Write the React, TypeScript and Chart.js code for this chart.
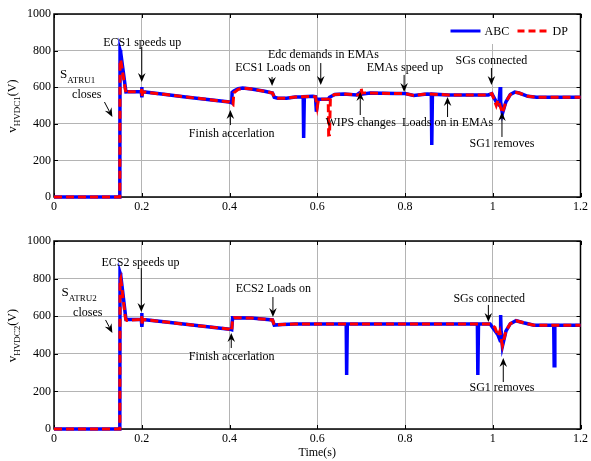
import { useEffect, useRef } from 'react';
import { Chart, registerables } from 'chart.js';
Chart.register(...registerables);

const FONT = '"Liberation Serif", "Times New Roman", serif';

const xTickValues = [0, 0.2, 0.4, 0.6, 0.8, 1, 1.2];
const xTickLabels = ['0', '0.2', '0.4', '0.6', '0.8', '1', '1.2'];
const yTickValues = [0, 200, 400, 600, 800, 1000];
const yTickLabels = ['0', '200', '400', '600', '800', '1000'];
const seriesNames = ['ABC', 'DP'];
const xTitle = 'Time(s)';

// ---- Panel 1 (v_HVDC1) ----
const t1ABC = [0, 0.15, 0.1505, 0.152, 0.164, 0.168, 0.199, 0.2, 0.2005, 0.202, 0.25, 0.3, 0.35, 0.4, 0.405, 0.406, 0.41, 0.42, 0.43, 0.45, 0.48, 0.498, 0.502, 0.51, 0.53, 0.55, 0.568, 0.569, 0.5705, 0.59, 0.596, 0.598, 0.601, 0.625, 0.628, 0.64, 0.66, 0.69, 0.7, 0.702, 0.72, 0.78, 0.8, 0.82, 0.85, 0.86, 0.861, 0.8625, 0.9, 0.99, 0.998, 1.008, 1.014, 1.017, 1.018, 1.022, 1.03, 1.04, 1.05, 1.06, 1.08, 1.1, 1.2];
const v1ABC = [0, 0, 803, 790, 574, 575, 575, 601, 545, 575, 561, 547, 533, 519, 515, 572, 580, 592, 596, 590, 578, 568, 545, 540, 540, 546, 548, 322, 548, 550, 548, 466, 534, 534, 545, 560, 563, 558, 575, 562, 568, 565, 565, 555, 563, 562, 284, 562, 558, 558, 565, 520, 505, 601, 520, 455, 520, 560, 573, 568, 550, 545, 545];
const t1DP = [0, 0.15, 0.1505, 0.152, 0.163, 0.165, 0.167, 0.199, 0.2, 0.2005, 0.202, 0.25, 0.3, 0.35, 0.4, 0.405, 0.408, 0.41, 0.42, 0.43, 0.45, 0.48, 0.498, 0.502, 0.51, 0.53, 0.55, 0.59, 0.596, 0.6, 0.603, 0.625, 0.626, 0.628, 0.63, 0.64, 0.66, 0.69, 0.699, 0.7, 0.702, 0.72, 0.78, 0.8, 0.82, 0.85, 0.9, 0.99, 0.998, 1.008, 1.012, 1.015, 1.022, 1.03, 1.04, 1.05, 1.06, 1.08, 1.1, 1.2];
const v1DP = [0, 0, 740, 750, 580, 565, 575, 575, 590, 550, 575, 561, 547, 533, 519, 510, 505, 570, 588, 595, 590, 578, 568, 545, 540, 540, 546, 550, 548, 490, 534, 534, 339, 340, 548, 560, 563, 558, 560, 596, 570, 568, 565, 565, 555, 563, 558, 558, 565, 500, 530, 510, 460, 520, 560, 573, 568, 550, 545, 545];

// ---- Panel 2 (v_HVDC2) ----
const t2ABC = [0, 0.15, 0.1505, 0.152, 0.164, 0.199, 0.2, 0.2005, 0.202, 0.25, 0.3, 0.35, 0.4, 0.405, 0.407, 0.45, 0.498, 0.502, 0.52, 0.55, 0.666, 0.667, 0.6685, 0.8, 0.965, 0.966, 0.9675, 0.994, 1.012, 1.017, 1.018, 1.019, 1.022, 1.03, 1.04, 1.053, 1.07, 1.094, 1.139, 1.14, 1.1415, 1.2];
const v2ABC = [0, 0, 831, 820, 583, 583, 617, 543, 583, 570, 557, 544, 531, 528, 592, 590, 580, 553, 556, 558, 558, 287, 558, 558, 558, 287, 558, 558, 500, 470, 606, 520, 440, 520, 560, 576, 565, 552, 552, 337, 552, 552];
const t2DP = [0, 0.15, 0.1505, 0.152, 0.163, 0.166, 0.199, 0.2, 0.2005, 0.202, 0.25, 0.3, 0.35, 0.4, 0.405, 0.407, 0.41, 0.45, 0.498, 0.502, 0.52, 0.55, 0.994, 1.005, 1.012, 1.016, 1.022, 1.03, 1.04, 1.053, 1.07, 1.094, 1.2];
const v2DP = [0, 0, 790, 800, 585, 578, 583, 600, 550, 583, 570, 557, 544, 531, 522, 585, 592, 590, 580, 553, 556, 558, 558, 540, 495, 520, 445, 520, 560, 576, 565, 552, 552];

// ---- annotations (data coordinates) ----
const notes1 = [
  { text: 'ECS1 speeds up', x: 0.201, y: 842 },
  { text: 'closes', x: 0.0746, y: 557 },
  { text: 'Finish accerlation', x: 0.405, y: 344 },
  { text: 'ECS1 Loads on', x: 0.499, y: 705 },
  { text: 'Edc demands in EMAs', x: 0.614, y: 776 },
  { text: 'EMAs speed up', x: 0.8, y: 705 },
  { text: 'SGs connected', x: 0.997, y: 743 },
  { text: 'WIPS changes', x: 0.699, y: 404 },
  { text: 'Loads on in EMAs', x: 0.897, y: 404 },
  { text: 'SG1 removes', x: 1.021, y: 290 },
];
const arrows1 = [
  [0.2, 820, 0.2, 628],
  [0.115, 519, 0.133, 437],
  [0.402, 393, 0.402, 475],
  [0.497, 656, 0.497, 607],
  [0.608, 732, 0.608, 612],
  [0.798, 667, 0.798, 574],
  [0.997, 705, 0.997, 612],
  [0.698, 448, 0.698, 574],
  [0.897, 437, 0.897, 546],
  [1.021, 328, 1.021, 464],
];
const subNote1 = { main: 'S', sub: 'ATRU1', x: 0.0136, y: 667 };
const yTitle1 = { main: 'v', sub: 'HVDC1', tail: '(V)' };

const notes2 = [
  { text: 'ECS2 speeds up', x: 0.197, y: 883 },
  { text: 'closes', x: 0.077, y: 617 },
  { text: 'Finish accerlation', x: 0.405, y: 383 },
  { text: 'ECS2 Loads on', x: 0.5, y: 745 },
  { text: 'SGs connected', x: 0.992, y: 691 },
  { text: 'SG1 removes', x: 1.021, y: 218 },
];
const arrows2 = [
  [0.199, 856, 0.199, 622],
  [0.1175, 580, 0.133, 511],
  [0.404, 431, 0.404, 511],
  [0.499, 702, 0.499, 596],
  [0.99, 660, 0.99, 569],
  [1.024, 250, 1.024, 378],
];
const subNote2 = { main: 'S', sub: 'ATRU2', x: 0.017, y: 725 };
const yTitle2 = { main: 'v', sub: 'HVDC2', tail: '(V)' };

const BLUE = '#0000ff';
const RED = '#ff0000';

function pts(t: number[], v: number[]) {
  return t.map((x, i) => ({ x, y: v[i] }));
}

function drawArrow(ctx: CanvasRenderingContext2D, x1: number, y1: number, x2: number, y2: number) {
  const ang = Math.atan2(y2 - y1, x2 - x1);
  const L = 9, W = 3.8, N = 6;
  const c = Math.cos(ang), s = Math.sin(ang);
  ctx.beginPath();
  ctx.moveTo(x1, y1);
  ctx.lineTo(x2 - c * N, y2 - s * N);
  ctx.stroke();
  ctx.beginPath();
  ctx.moveTo(x2, y2);
  ctx.lineTo(x2 - c * L - s * W, y2 - s * L + c * W);
  ctx.lineTo(x2 - c * N, y2 - s * N);
  ctx.lineTo(x2 - c * L + s * W, y2 - s * L - c * W);
  ctx.closePath();
  ctx.fill();
}

function makeOverlay(opts: any) {
  return {
    id: 'overlay',
    beforeDatasetsDraw(chart: any) {
      const { ctx, chartArea: a, scales } = chart;
      const xs = scales.x, ys = scales.y;
      ctx.save();
      ctx.strokeStyle = '#000';
      ctx.lineWidth = 1;
      const tl = 4;
      ctx.beginPath();
      xTickValues.forEach((v) => {
        const px = Math.round(xs.getPixelForValue(v)) + 0.5;
        ctx.moveTo(px, a.bottom); ctx.lineTo(px, a.bottom - tl);
        ctx.moveTo(px, a.top); ctx.lineTo(px, a.top + tl);
      });
      yTickValues.forEach((v) => {
        const py = Math.round(ys.getPixelForValue(v)) + 0.5;
        ctx.moveTo(a.left, py); ctx.lineTo(a.left + tl, py);
        ctx.moveTo(a.right, py); ctx.lineTo(a.right - tl, py);
      });
      ctx.stroke();
      ctx.lineWidth = 1.5;
      ctx.strokeRect(a.left, a.top, a.right - a.left, a.bottom - a.top);
      ctx.restore();
    },
    afterDraw(chart: any) {
      const { ctx, chartArea: a, scales } = chart;
      const xs = scales.x, ys = scales.y;
      ctx.save();
      ctx.fillStyle = '#000';
      ctx.strokeStyle = '#000';
      ctx.lineWidth = 1;
      ctx.font = `12px ${FONT}`;
      ctx.textAlign = 'center';
      ctx.textBaseline = 'middle';
      opts.notes.forEach((n: any) => {
        ctx.fillText(n.text, xs.getPixelForValue(n.x), ys.getPixelForValue(n.y));
      });
      opts.arrows.forEach((r: number[]) => {
        drawArrow(ctx, xs.getPixelForValue(r[0]), ys.getPixelForValue(r[1]), xs.getPixelForValue(r[2]), ys.getPixelForValue(r[3]));
      });
      // S_ATRU note
      const sn = opts.subNote;
      const sx = xs.getPixelForValue(sn.x), sy = ys.getPixelForValue(sn.y);
      ctx.textAlign = 'left';
      ctx.font = `13px ${FONT}`;
      ctx.fillText(sn.main, sx, sy);
      const sw = ctx.measureText(sn.main).width;
      ctx.font = `9px ${FONT}`;
      ctx.fillText(sn.sub, sx + sw, sy + 6);

      // legend
      if (opts.legend) {
        const lx = a.right - 136, ly = a.top + 4;
        ctx.fillStyle = '#fff';
        ctx.fillRect(lx, ly, 134, 26);
        const cy = ly + 13;
        ctx.lineWidth = 3;
        ctx.strokeStyle = BLUE;
        ctx.beginPath(); ctx.moveTo(lx + 6, cy); ctx.lineTo(lx + 36, cy); ctx.stroke();
        ctx.strokeStyle = RED;
        ctx.setLineDash([7, 4]);
        ctx.beginPath(); ctx.moveTo(lx + 73, cy); ctx.lineTo(lx + 104, cy); ctx.stroke();
        ctx.setLineDash([]);
        ctx.fillStyle = '#000';
        ctx.font = `12px ${FONT}`;
        ctx.textAlign = 'left';
        ctx.fillText(seriesNames[0], lx + 40, cy + 1);
        ctx.fillText(seriesNames[1], lx + 108, cy + 1);
      }

      // y title with subscript
      const yt = opts.yTitle;
      ctx.save();
      ctx.translate(15, (a.top + a.bottom) / 2);
      ctx.rotate(-Math.PI / 2);
      ctx.fillStyle = '#000';
      ctx.textAlign = 'left';
      ctx.font = `13px ${FONT}`;
      const w1 = ctx.measureText(yt.main).width;
      const w3 = ctx.measureText(yt.tail).width;
      ctx.font = `9px ${FONT}`;
      const w2 = ctx.measureText(yt.sub).width;
      let px = -(w1 + w2 + w3) / 2;
      ctx.font = `13px ${FONT}`;
      ctx.fillText(yt.main, px, -2);
      px += w1;
      ctx.font = `9px ${FONT}`;
      ctx.fillText(yt.sub, px, 3);
      px += w2;
      ctx.font = `12px ${FONT}`;
      ctx.fillText(yt.tail, px, -2);
      ctx.restore();

      if (opts.xTitle) {
        ctx.font = `12px ${FONT}`;
        ctx.textAlign = 'center';
        ctx.fillStyle = '#000';
        ctx.fillText(xTitle, (a.left + a.right) / 2, a.bottom + 24);
      }
      ctx.restore();
    },
  };
}

function Panel(props: any) {
  const ref = useRef<HTMLCanvasElement>(null);
  useEffect(() => {
    const p = props;
    const chart = new Chart(ref.current as HTMLCanvasElement, {
      type: 'line',
      data: {
        datasets: [
          { label: seriesNames[1], data: pts(p.tDP, p.vDP), borderColor: RED, borderWidth: 3, borderDash: [8, 4], pointRadius: 0, tension: 0, order: 0, clip: 4, fill: false } as any,
          { label: seriesNames[0], data: pts(p.tABC, p.vABC), borderColor: BLUE, borderWidth: 3.5, pointRadius: 0, tension: 0, order: 1, clip: 4, fill: false } as any,
        ],
      },
      options: {
        animation: false,
        responsive: false,
        maintainAspectRatio: false,
        devicePixelRatio: 1,
        parsing: false,
        normalized: true,
        layout: { padding: { top: p.padTop, right: 6, left: 0, bottom: 0 } },
        plugins: { legend: { display: false }, tooltip: { enabled: false }, title: { display: false } },
        scales: {
          x: {
            type: 'linear', min: 0, max: 1.2,
            afterBuildTicks: (s: any) => { s.ticks = xTickValues.map((v) => ({ value: v })); },
            afterFit: (s: any) => { s.height = p.axisH; },
            ticks: {
              callback: (v: any) => xTickLabels[xTickValues.indexOf(Number(v))] ?? '',
              font: { family: FONT, size: 12 }, color: '#000', padding: 3, maxRotation: 0, autoSkip: false,
            },
            grid: { color: '#b4b4b4', drawTicks: false, lineWidth: 1 },
            border: { display: false },
          },
          y: {
            type: 'linear', min: 0, max: 1000,
            afterBuildTicks: (s: any) => { s.ticks = yTickValues.map((v) => ({ value: v })); },
            afterFit: (s: any) => { s.width = 54; },
            ticks: {
              callback: (v: any) => yTickLabels[yTickValues.indexOf(Number(v))] ?? '',
              font: { family: FONT, size: 12 }, color: '#000', padding: 3,
            },
            grid: { color: '#b4b4b4', drawTicks: false, lineWidth: 1 },
            border: { display: false },
          },
        },
      } as any,
      plugins: [makeOverlay(p)],
    });
    return () => chart.destroy();
  }, []);
  return <canvas ref={ref} width={591} height={props.height} style={{ display: 'block', width: 591, height: props.height }} />;
}

export default function App() {
  return (
    <div style={{ position: 'absolute', left: 0, top: 0, width: 591, height: 461, background: '#fff' }}>
      <Panel height={220} padTop={14} axisH={23} tABC={t1ABC} vABC={v1ABC} tDP={t1DP} vDP={v1DP}
        notes={notes1} arrows={arrows1} subNote={subNote1} yTitle={yTitle1} legend={true} xTitle={false} />
      <Panel height={241} padTop={21} axisH={32} tABC={t2ABC} vABC={v2ABC} tDP={t2DP} vDP={v2DP}
        notes={notes2} arrows={arrows2} subNote={subNote2} yTitle={yTitle2} legend={false} xTitle={true} />
    </div>
  );
}
